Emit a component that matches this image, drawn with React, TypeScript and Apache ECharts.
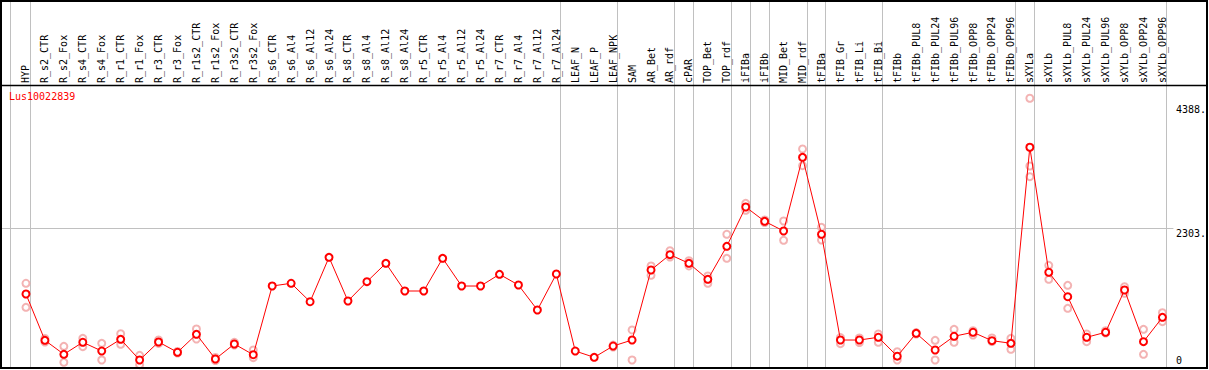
import React, { useEffect, useRef } from 'react';
import * as echarts from 'echarts';

const categories = [
  'HYP', 'R_s2_CTR', 'R_s2_Fox', 'R_s4_CTR', 'R_s4_Fox', 'R_r1_CTR', 'R_r1_Fox', 'R_r3_CTR', 'R_r3_Fox',
  'R_r1s2_CTR', 'R_r1s2_Fox', 'R_r3s2_CTR', 'R_r3s2_Fox',
  'R_s6_CTR', 'R_s6_Al4', 'R_s6_Al12', 'R_s6_Al24', 'R_s8_CTR', 'R_s8_Al4', 'R_s8_Al12', 'R_s8_Al24',
  'R_r5_CTR', 'R_r5_Al4', 'R_r5_Al12', 'R_r5_Al24', 'R_r7_CTR', 'R_r7_Al4', 'R_r7_Al12', 'R_r7_Al24',
  'LEAF_N', 'LEAF_P', 'LEAF_NPK', 'SAM', 'AR_Bet', 'AR_rdf', 'cPAR', 'TOP_Bet', 'TOP_rdf', 'iFIBa', 'iFIBb',
  'MID_Bet', 'MID_rdf', 'tFIBa', 'tFIB_Gr', 'tFIB_Li', 'tFIB_Bi', 'tFIBb',
  'tFIBb_PUL8', 'tFIBb_PUL24', 'tFIBb_PUL96', 'tFIBb_OPP8', 'tFIBb_OPP24', 'tFIBb_OPP96',
  'sXYLa', 'sXYLb', 'sXYLb_PUL8', 'sXYLb_PUL24', 'sXYLb_PUL96', 'sXYLb_OPP8', 'sXYLb_OPP24', 'sXYLb_OPP96',
];

const means = [
  1194, 415, 180, 382, 235, 432, 84, 387, 214, 516, 101, 353, 173,
  1328, 1374, 1064, 1811, 1076, 1401, 1710, 1244,
  1244, 1794, 1328, 1328, 1525, 1345, 925, 1530,
  235, 129, 319, 420, 1597, 1855, 1710, 1441, 1996, 2657, 2416,
  2253, 3492, 2198, 420, 420, 466, 148,
  533, 252, 483, 550, 409, 365,
  3661, 1559, 1148, 466, 550, 1261, 392, 802,
];

const rep1 = [
  1374, 446, 314, 449, 365, 526, 163, 420, 227, 605, 126, 382, 252,
  null, null, null, null, null, null, null, null,
  null, null, null, null, null, null, null, null,
  null, null, 335, 589, 1665, 1922, 1754, 1497, 2198, 2719, 2438,
  2421, 3632, 2315, 462, 454, 521, 224,
  545, 415, 600, 577, 454, 449,
  4485, 1676, 1340, 521, 577, 1317, 600, 879,
];

const rep2 = [
  970, 387, 45, 308, 84, 348, 5, 362, 202, 437, 76, 336, 123,
  null, null, null, null, null, null, null, null,
  null, null, null, null, null, null, null, null,
  null, null, 303, 84, 1508, 1816, 1665, 1374, 1794, 2601, 2396,
  2097, 3351, 2102, 358, 378, 382, 84,
  520, 84, 382, 504, 395, 264,
  3346, 1441, 953, 392, 538, 1206, 180, 728,
];

const rep3 = [
  null, null, null, null, null, null, null, null, null, null, null, null, null,
  null, null, null, null, null, null, null, null,
  null, null, null, null, null, null, null, null,
  null, null, null, null, null, null, null, null, null, null, null,
  null, null, null, null, null, null, null,
  null, null, null, null, null, null,
  3166, null, null, null, null, null, null, null,
];

const yLabelValues = [2303, 4388];
const yZeroLabel = [0];
const yMax = 4708;
const geneName = 'Lus10022839';
const groupEnds = [
  'HYP', 'R_r7_Al24', 'LEAF_NPK', 'AR_rdf', 'cPAR', 'TOP_rdf', 'iFIBa', 'iFIBb',
  'MID_rdf', 'tFIBa', 'tFIB_Bi', 'tFIBb_OPP96', 'sXYLa', 'sXYLb_OPP96',
];
const gridLineValues = [2303];

const MONO = 'DejaVu Sans Mono';

export default function App() {
  const ref = useRef<HTMLDivElement>(null);

  useEffect(() => {
    if (!ref.current) return;
    const chart = echarts.init(ref.current, null, { renderer: 'svg' });

    const repData: [number, number][] = [];
    [rep1, rep2, rep3].forEach((arr) =>
      arr.forEach((v, i) => {
        if (v != null) repData.push([i, v as number]);
      })
    );

    chart.setOption({
      animation: false,
      backgroundColor: '#ffffff',
      title: {
        text: geneName,
        left: 9,
        top: 91,
        padding: 0,
        textStyle: { color: '#ff0000', fontFamily: MONO, fontSize: 10, fontWeight: 'normal' },
      },
      grid: { left: 16.5, right: 33.5, top: 85, bottom: 5 },
      xAxis: {
        type: 'category',
        position: 'top',
        data: categories,
        boundaryGap: true,
        axisLine: { show: false },
        axisTick: { show: false },
        splitLine: { show: false },
        axisLabel: {
          rotate: 90,
          interval: 0,
          margin: 2,
          color: '#000000',
          fontFamily: MONO,
          fontSize: 10,
        },
      },
      yAxis: [
        {
          type: 'value',
          position: 'right',
          min: 0,
          max: yMax,
          axisLine: { show: false },
          axisTick: { show: false },
          splitLine: { show: false },
          axisLabel: {
            customValues: yLabelValues,
            formatter: (v: number) => `${v}.`,
            verticalAlign: 'top',
            margin: 4,
            color: '#000000',
            fontFamily: MONO,
            fontSize: 10,
          },
        },
        {
          type: 'value',
          position: 'right',
          min: 0,
          max: yMax,
          axisLine: { show: false },
          axisTick: { show: false },
          splitLine: { show: false },
          axisLabel: {
            customValues: yZeroLabel,
            formatter: (v: number) => `${v}`,
            verticalAlign: 'bottom',
            margin: 4,
            color: '#000000',
            fontFamily: MONO,
            fontSize: 10,
          },
        },
      ],
      series: [
        {
          type: 'scatter',
          name: 'replicates',
          data: repData,
          symbol: 'emptyCircle',
          symbolSize: 7,
          z: 1,
          itemStyle: { color: '#f0a0a0', borderColor: '#f0a0a0', borderWidth: 1 },
        },
        {
          type: 'line',
          name: 'mean',
          data: means,
          symbol: 'emptyCircle',
          symbolSize: 7,
          z: 3,
          lineStyle: { color: '#ff0000', width: 1 },
          itemStyle: { color: '#ff0000', borderColor: '#ff0000', borderWidth: 1.5 },
        },
      ],
    });

    const px0 = chart.convertToPixel({ xAxisIndex: 0 }, 0) as number;
    const sepXs = [px0 - 16, ...groupEnds.map((c) => (chart.convertToPixel({ xAxisIndex: 0 }, categories.indexOf(c)) as number) + 4)];
    const lastX = chart.convertToPixel({ xAxisIndex: 0 }, categories.length - 1) as number;
    const grey = '#c0c0c0';
    const graphics: any[] = [];
    sepXs.forEach((x) => {
      const xx = Math.round(x) + 0.5;
      graphics.push({ type: 'line', z: -1, shape: { x1: xx, y1: 1, x2: xx, y2: 369 }, style: { stroke: grey, lineWidth: 1 } });
    });
    gridLineValues.forEach((v) => {
      const y = Math.round(chart.convertToPixel({ yAxisIndex: 0 }, v) as number) + 0.5;
      graphics.push({ type: 'line', z: -1, shape: { x1: 1, y1: y, x2: lastX + 11, y2: y }, style: { stroke: grey, lineWidth: 1 } });
    });
    graphics.push({ type: 'line', z: 5, shape: { x1: 0, y1: 85.5, x2: 1208, y2: 85.5 }, style: { stroke: '#000', lineWidth: 1.5 } });
    graphics.push({ type: 'rect', z: 5, shape: { x: 1, y: 1, width: 1206, height: 367 }, style: { fill: 'none', stroke: '#000', lineWidth: 2 } });
    chart.setOption({ graphic: graphics });

    return () => chart.dispose();
  }, []);

  return <div ref={ref} style={{ position: 'fixed', left: 0, top: 0, width: 1209, height: 370 }} />;
}
